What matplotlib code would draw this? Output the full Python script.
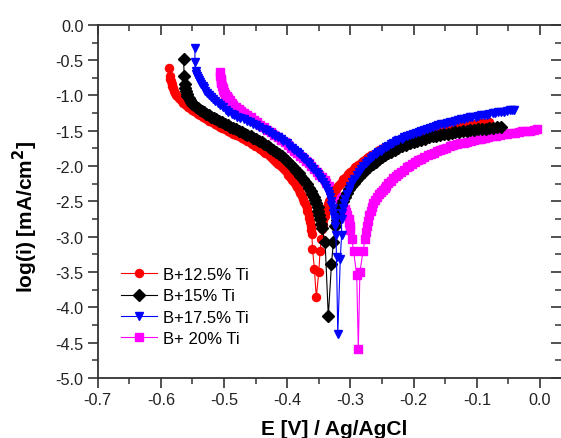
import matplotlib
matplotlib.use("Agg")
import matplotlib.pyplot as plt
from matplotlib.ticker import MultipleLocator

plt.rcParams["font.family"] = ["Liberation Sans", "DejaVu Sans"]

# B+12.5% Ti  (cathodic branch, then anodic branch)
E_125 = [-0.587, -0.586, -0.585, -0.584, -0.583, -0.582, -0.581, -0.579, -0.578, -0.576,
         -0.574, -0.572, -0.570, -0.567, -0.565, -0.562, -0.560, -0.557, -0.554, -0.551,
         -0.548, -0.545, -0.541, -0.538, -0.534, -0.530, -0.527, -0.523, -0.519, -0.515,
         -0.511, -0.507, -0.503, -0.498, -0.494, -0.490, -0.486, -0.481, -0.477, -0.472,
         -0.468, -0.463, -0.459, -0.455, -0.451, -0.447, -0.443, -0.439, -0.435, -0.431,
         -0.428, -0.424, -0.421, -0.417, -0.414, -0.410, -0.407, -0.404, -0.401, -0.398,
         -0.395, -0.392, -0.389, -0.386, -0.384, -0.381, -0.379, -0.377, -0.375, -0.373,
         -0.371, -0.369, -0.368, -0.366, -0.365, -0.364, -0.363, -0.362, -0.361, -0.360,
         -0.357, -0.354,
         -0.350, -0.348, -0.346, -0.345, -0.344, -0.343, -0.341, -0.340, -0.338, -0.336,
         -0.334, -0.331, -0.329, -0.326, -0.323, -0.320, -0.317, -0.314, -0.311, -0.307,
         -0.304, -0.300, -0.296, -0.292, -0.288, -0.284, -0.280, -0.276, -0.272, -0.267,
         -0.263, -0.258, -0.254, -0.249, -0.244, -0.239, -0.234, -0.229, -0.224, -0.219,
         -0.214, -0.208, -0.203, -0.197, -0.192, -0.186, -0.181, -0.175, -0.169, -0.163,
         -0.157, -0.151, -0.145, -0.139, -0.133, -0.127, -0.121, -0.115, -0.109, -0.103,
         -0.097, -0.091, -0.086, -0.080]
I_125 = [-0.61, -0.72, -0.76, -0.80, -0.84, -0.87, -0.90, -0.93, -0.96, -0.99,
         -1.01, -1.03, -1.05, -1.08, -1.10, -1.12, -1.14, -1.16, -1.18, -1.20,
         -1.22, -1.24, -1.26, -1.28, -1.30, -1.32, -1.34, -1.36, -1.38, -1.40,
         -1.42, -1.44, -1.46, -1.48, -1.50, -1.52, -1.54, -1.56, -1.58, -1.60,
         -1.62, -1.64, -1.66, -1.685, -1.71, -1.735, -1.76, -1.785, -1.81, -1.835,
         -1.86, -1.885, -1.91, -1.94, -1.97, -2.00, -2.03, -2.06, -2.09, -2.125,
         -2.16, -2.195, -2.23, -2.265, -2.30, -2.34, -2.38, -2.42, -2.46, -2.505,
         -2.55, -2.595, -2.64, -2.69, -2.74, -2.795, -2.85, -2.905, -2.96, -3.17,
         -3.46, -3.86,
         -3.50, -3.20, -3.03, -2.89, -2.83, -2.77, -2.71, -2.65, -2.59, -2.54,
         -2.49, -2.44, -2.40, -2.36, -2.32, -2.28, -2.25, -2.22, -2.185, -2.15,
         -2.115, -2.08, -2.05, -2.02, -1.99, -1.96, -1.93, -1.90, -1.875, -1.85,
         -1.825, -1.80, -1.775, -1.75, -1.73, -1.71, -1.69, -1.67, -1.65, -1.63,
         -1.615, -1.60, -1.585, -1.57, -1.555, -1.54, -1.525, -1.51, -1.50, -1.49,
         -1.48, -1.47, -1.46, -1.45, -1.44, -1.43, -1.425, -1.42, -1.41, -1.40,
         -1.395, -1.39, -1.385, -1.38]

# B+15% Ti
E_150 = [-0.564, -0.563, -0.562, -0.561, -0.560, -0.559, -0.558, -0.556, -0.554, -0.552,
         -0.550, -0.547, -0.544, -0.541, -0.538, -0.535, -0.532, -0.528, -0.524, -0.520,
         -0.516, -0.512, -0.508, -0.503, -0.499, -0.494, -0.490, -0.485, -0.481, -0.476,
         -0.472, -0.467, -0.463, -0.458, -0.454, -0.449, -0.445, -0.440, -0.436, -0.431,
         -0.427, -0.422, -0.418, -0.413, -0.409, -0.405, -0.401, -0.397, -0.393, -0.389,
         -0.386, -0.382, -0.379, -0.375, -0.372, -0.369, -0.366, -0.363, -0.360, -0.358,
         -0.356, -0.354, -0.352, -0.351, -0.349, -0.348, -0.346, -0.345, -0.340, -0.335,
         -0.330, -0.327, -0.324, -0.322, -0.320, -0.318, -0.315, -0.312, -0.309, -0.306,
         -0.302, -0.299, -0.295, -0.291, -0.287, -0.283, -0.279, -0.275, -0.270, -0.265,
         -0.260, -0.255, -0.250, -0.245, -0.240, -0.235, -0.229, -0.224, -0.218, -0.212,
         -0.206, -0.200, -0.194, -0.188, -0.182, -0.176, -0.170, -0.164, -0.158, -0.152,
         -0.146, -0.140, -0.134, -0.128, -0.122, -0.116, -0.110, -0.104, -0.098, -0.092,
         -0.086, -0.080, -0.074, -0.068, -0.062]
I_150 = [-0.49, -0.72, -0.84, -0.90, -0.94, -0.98, -1.01, -1.04, -1.065, -1.09,
         -1.115, -1.14, -1.16, -1.18, -1.20, -1.22, -1.24, -1.26, -1.28, -1.30,
         -1.32, -1.34, -1.36, -1.38, -1.40, -1.42, -1.44, -1.46, -1.48, -1.50,
         -1.52, -1.54, -1.56, -1.58, -1.60, -1.62, -1.64, -1.66, -1.685, -1.71,
         -1.74, -1.77, -1.80, -1.83, -1.86, -1.89, -1.925, -1.96, -1.995, -2.03,
         -2.065, -2.10, -2.14, -2.18, -2.22, -2.26, -2.305, -2.35, -2.395, -2.44,
         -2.485, -2.53, -2.58, -2.63, -2.69, -2.75, -2.815, -2.88, -3.08, -4.13,
         -3.39, -3.08, -2.85, -2.76, -2.68, -2.61, -2.55, -2.495, -2.44, -2.385,
         -2.33, -2.285, -2.24, -2.195, -2.15, -2.115, -2.08, -2.045, -2.01, -1.975,
         -1.94, -1.905, -1.87, -1.845, -1.82, -1.795, -1.77, -1.745, -1.72, -1.70,
         -1.68, -1.66, -1.64, -1.625, -1.61, -1.595, -1.58, -1.57, -1.56, -1.55,
         -1.54, -1.53, -1.52, -1.515, -1.51, -1.50, -1.49, -1.485, -1.48, -1.475,
         -1.47, -1.465, -1.46, -1.45, -1.44]

# B+17.5% Ti
E_175 = [-0.546, -0.546, -0.545, -0.544, -0.543, -0.541, -0.540, -0.538, -0.536, -0.534,
         -0.532, -0.530, -0.527, -0.524, -0.521, -0.518, -0.514, -0.510, -0.506, -0.502,
         -0.497, -0.493, -0.488, -0.484, -0.479, -0.474, -0.469, -0.464, -0.459, -0.454,
         -0.449, -0.444, -0.439, -0.434, -0.429, -0.424, -0.419, -0.415, -0.410, -0.406,
         -0.401, -0.397, -0.393, -0.389, -0.385, -0.381, -0.377, -0.373, -0.369, -0.366,
         -0.362, -0.359, -0.355, -0.352, -0.349, -0.346, -0.343, -0.341, -0.338, -0.336,
         -0.334, -0.333, -0.331, -0.330, -0.328, -0.327, -0.326, -0.325, -0.324, -0.323,
         -0.322, -0.320,
         -0.316, -0.314, -0.314, -0.313, -0.312, -0.310, -0.308, -0.306, -0.303, -0.300,
         -0.297, -0.294, -0.290, -0.287, -0.283, -0.280, -0.276, -0.272, -0.268, -0.264,
         -0.260, -0.256, -0.252, -0.248, -0.244, -0.240, -0.236, -0.232, -0.228, -0.224,
         -0.219, -0.215, -0.210, -0.206, -0.201, -0.197, -0.192, -0.188, -0.183, -0.179,
         -0.174, -0.170, -0.165, -0.161, -0.156, -0.152, -0.147, -0.143, -0.138, -0.134,
         -0.129, -0.125, -0.120, -0.116, -0.111, -0.107, -0.102, -0.098, -0.093, -0.089,
         -0.084, -0.080, -0.075, -0.071, -0.066, -0.062, -0.057, -0.053, -0.048, -0.044,
         -0.041]
I_175 = [-0.33, -0.53, -0.66, -0.69, -0.72, -0.75, -0.78, -0.81, -0.84, -0.87,
         -0.90, -0.93, -0.96, -0.99, -1.02, -1.05, -1.08, -1.105, -1.13, -1.165,
         -1.20, -1.23, -1.26, -1.28, -1.30, -1.32, -1.34, -1.36, -1.38, -1.40,
         -1.42, -1.445, -1.47, -1.495, -1.52, -1.545, -1.57, -1.595, -1.62, -1.65,
         -1.68, -1.71, -1.74, -1.77, -1.80, -1.835, -1.87, -1.905, -1.94, -1.975,
         -2.01, -2.045, -2.08, -2.115, -2.15, -2.19, -2.23, -2.27, -2.31, -2.355,
         -2.40, -2.445, -2.49, -2.545, -2.60, -2.66, -2.72, -2.785, -2.85, -2.98,
         -3.29, -4.38,
         -3.31, -2.98, -2.75, -2.67, -2.60, -2.53, -2.46, -2.40, -2.34, -2.285,
         -2.23, -2.18, -2.13, -2.085, -2.04, -2.00, -1.96, -1.925, -1.89, -1.86,
         -1.83, -1.805, -1.78, -1.755, -1.73, -1.71, -1.69, -1.67, -1.65, -1.63,
         -1.61, -1.595, -1.58, -1.565, -1.55, -1.535, -1.52, -1.505, -1.49, -1.475,
         -1.46, -1.445, -1.43, -1.42, -1.41, -1.40, -1.39, -1.38, -1.37, -1.36,
         -1.35, -1.34, -1.33, -1.32, -1.31, -1.305, -1.30, -1.29, -1.28, -1.275,
         -1.27, -1.26, -1.25, -1.245, -1.24, -1.235, -1.23, -1.22, -1.21, -1.205,
         -1.20]

# B+ 20% Ti
E_200 = [-0.506, -0.506, -0.505, -0.505, -0.504, -0.503, -0.502, -0.501, -0.500, -0.498,
         -0.496, -0.494, -0.491, -0.488, -0.485, -0.481, -0.477, -0.473, -0.468, -0.463,
         -0.458, -0.453, -0.448, -0.443, -0.437, -0.432, -0.426, -0.421, -0.415, -0.410,
         -0.404, -0.399, -0.394, -0.389, -0.384, -0.380, -0.375, -0.371, -0.366, -0.362,
         -0.357, -0.353, -0.349, -0.345, -0.341, -0.338, -0.334, -0.331, -0.327, -0.324,
         -0.320, -0.317, -0.314, -0.311, -0.309, -0.307, -0.305, -0.303, -0.302, -0.301,
         -0.300, -0.298, -0.295, -0.290, -0.2875,
         -0.285, -0.280, -0.277, -0.275, -0.274, -0.272, -0.270, -0.268, -0.266, -0.264,
         -0.261, -0.258, -0.255, -0.252, -0.249, -0.246, -0.243, -0.240, -0.236, -0.232,
         -0.228, -0.224, -0.220, -0.216, -0.211, -0.207, -0.202, -0.198, -0.193, -0.188,
         -0.183, -0.178, -0.173, -0.168, -0.163, -0.158, -0.153, -0.148, -0.142, -0.137,
         -0.131, -0.126, -0.120, -0.115, -0.109, -0.104, -0.098, -0.093, -0.087, -0.082,
         -0.076, -0.070, -0.064, -0.058, -0.052, -0.046, -0.040, -0.034, -0.028, -0.022,
         -0.016, -0.010, -0.004]
I_200 = [-0.67, -0.72, -0.77, -0.80, -0.83, -0.86, -0.89, -0.92, -0.95, -0.98,
         -1.01, -1.04, -1.07, -1.10, -1.13, -1.16, -1.19, -1.22, -1.25, -1.28,
         -1.31, -1.345, -1.38, -1.415, -1.45, -1.485, -1.52, -1.555, -1.59, -1.625,
         -1.66, -1.70, -1.74, -1.78, -1.82, -1.855, -1.89, -1.925, -1.96, -2.00,
         -2.04, -2.08, -2.12, -2.16, -2.20, -2.24, -2.28, -2.32, -2.36, -2.40,
         -2.44, -2.48, -2.52, -2.565, -2.61, -2.655, -2.70, -2.75, -2.80, -2.855,
         -2.91, -3.03, -3.20, -3.55, -4.59,
         -3.50, -3.20, -3.03, -2.94, -2.85, -2.775, -2.70, -2.64, -2.58, -2.53,
         -2.48, -2.44, -2.40, -2.37, -2.34, -2.31, -2.28, -2.245, -2.21, -2.175,
         -2.14, -2.11, -2.08, -2.05, -2.02, -1.995, -1.97, -1.945, -1.92, -1.895,
         -1.87, -1.85, -1.83, -1.81, -1.79, -1.775, -1.76, -1.74, -1.72, -1.705,
         -1.69, -1.68, -1.67, -1.655, -1.64, -1.63, -1.62, -1.61, -1.60, -1.59,
         -1.58, -1.57, -1.56, -1.55, -1.54, -1.535, -1.53, -1.52, -1.51, -1.505,
         -1.50, -1.49, -1.48]

LABELS = ["B+12.5% Ti", "B+15% Ti", "B+17.5% Ti", "B+ 20% Ti"]
X_TICKS = [-0.7, -0.6, -0.5, -0.4, -0.3, -0.2, -0.1, 0.0]
Y_TICKS = [0.0, -0.5, -1.0, -1.5, -2.0, -2.5, -3.0, -3.5, -4.0, -4.5, -5.0]

fig = plt.figure(figsize=(5.61, 4.39), dpi=100)
ax = fig.add_axes([0.174, 0.137, 0.826, 0.804])

series = [
    (E_125, I_125, "#ff0000", "o", 5.8, 2),
    (E_150, I_150, "#000000", "D", 5.8, 3),
    (E_175, I_175, "#0000ff", "v", 6.4, 4),
    (E_200, I_200, "#ff00ff", "s", 5.6, 1),
]
for (e, i, c, m, ms, z), lab in zip(series, LABELS):
    ax.plot(e, i, color=c, lw=0.8, marker=m, markersize=ms, markerfacecolor=c,
            markeredgecolor=c, label=lab, zorder=z)

ax.set_xlim(-0.7, 0.0332)
ax.set_ylim(-5.0, 0.0)
ax.set_xticks(X_TICKS)
ax.set_xticklabels([f"{v:.1f}" for v in X_TICKS])
ax.set_yticks(Y_TICKS)
ax.set_yticklabels([f"{v:.1f}" for v in Y_TICKS])
ax.xaxis.set_minor_locator(MultipleLocator(0.05))
ax.yaxis.set_minor_locator(MultipleLocator(0.25))

for s in ("left", "bottom", "top"):
    ax.spines[s].set_color("#333333")
    ax.spines[s].set_linewidth(1.3)
ax.spines["right"].set_visible(False)

ax.tick_params(axis="both", which="major", length=7, width=1.2, color="#333333",
               labelsize=11.7, labelcolor="#222222", pad=3)
ax.tick_params(axis="both", which="minor", length=4, width=1.1, color="#333333")
ax.tick_params(axis="x", which="both", direction="out", top=True, labeltop=False)
ax.tick_params(axis="y", which="both", direction="out", right=True, labelright=False)
# top and right ticks point into the plot
for t in ax.xaxis.get_ticklines(minor=False)[1::2] + ax.xaxis.get_ticklines(minor=True)[1::2]:
    t.set_marker(3)
for t in ax.yaxis.get_ticklines(minor=False)[1::2] + ax.yaxis.get_ticklines(minor=True)[1::2]:
    t.set_marker(0)

ax.set_xlabel("E [V] / Ag/AgCl", fontsize=15, fontweight="bold")
ax.set_ylabel("log(i) [mA/cm$^\\mathbf{2}$]", fontsize=15, fontweight="bold")
ax.xaxis.set_label_coords(0.511, -0.117)
ax.yaxis.set_label_coords(-0.124, 0.46)

ax.legend(loc="upper left", bbox_to_anchor=(0.050, 0.314), frameon=False,
          fontsize=12, handlelength=2.15, handletextpad=0.36, labelspacing=0.38,
          borderpad=0.0, borderaxespad=0.0)

fig.savefig("out.png", dpi=100)
